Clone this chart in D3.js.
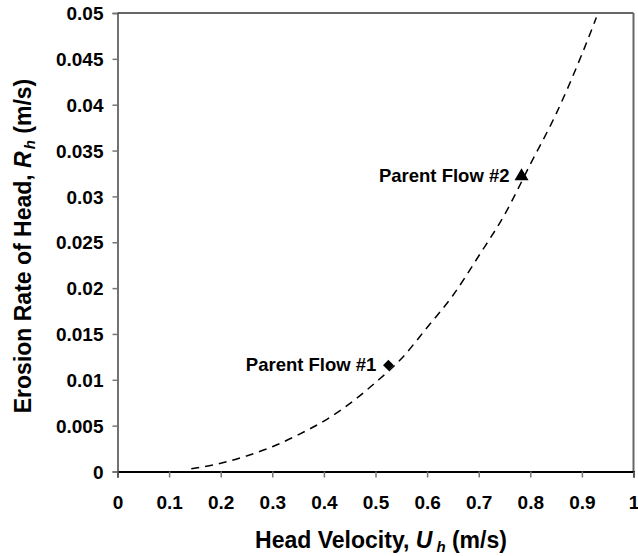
<!DOCTYPE html>
<html>
<head>
<meta charset="utf-8">
<script src="https://cdn.jsdelivr.net/npm/d3@7"></script>
<style>
  body { margin: 0; background: #fff; }
  svg { font-family: Arial, "Liberation Sans", sans-serif; }
</style>
</head>
<body>
<div id="chart"></div>
<script>
// curve (head velocity vs erosion rate)
const curveU = [0.143, 0.2, 0.25, 0.3, 0.35, 0.4, 0.45, 0.5, 0.55, 0.6, 0.65, 0.7, 0.75, 0.8, 0.85, 0.9, 0.928];
const curveR = [0.0003, 0.0009, 0.0017, 0.0027, 0.0040, 0.0055, 0.0074, 0.0097, 0.0123, 0.0157, 0.0192, 0.0235, 0.0280, 0.0335, 0.0390, 0.0455, 0.0495];

const flowNames = ["Parent Flow #1", "Parent Flow #2"];
const flowU = [0.525, 0.783];
const flowR = [0.0116, 0.0322];
const flowShapes = ["diamond", "triangle"];

const xTicks = [0, 0.1, 0.2, 0.3, 0.4, 0.5, 0.6, 0.7, 0.8, 0.9, 1];
const yTicks = [0, 0.005, 0.01, 0.015, 0.02, 0.025, 0.03, 0.035, 0.04, 0.045, 0.05];

const width = 638;
const height = 556;
const margin = { top: 13, right: 4.5, bottom: 84.5, left: 117.5 };

const svg = d3.select("#chart")
  .append("svg")
  .attr("width", width)
  .attr("height", height);

const x = d3.scaleLinear()
  .domain([0, 1])
  .range([margin.left, width - margin.right]);

const y = d3.scaleLinear()
  .domain([0, 0.05])
  .range([height - margin.bottom, margin.top]);

// frame top and right
svg.append("line")
  .attr("x1", x(0)).attr("x2", x(1))
  .attr("y1", y(0.05)).attr("y2", y(0.05))
  .attr("stroke", "#333").attr("stroke-width", 1.5);
svg.append("line")
  .attr("x1", x(1)).attr("x2", x(1))
  .attr("y1", y(0.05)).attr("y2", y(0))
  .attr("stroke", "#666").attr("stroke-width", 2);

// x axis
const xAxis = svg.append("g")
  .attr("transform", `translate(0,${y(0)})`)
  .call(d3.axisBottom(x).tickValues(xTicks).tickSize(6).tickPadding(18)
    .tickFormat(d => d3.format("")(+d.toFixed(1))));
xAxis.select(".domain").attr("stroke", "#000").attr("stroke-width", 2);
xAxis.selectAll(".tick line").attr("stroke", "#777").attr("stroke-width", 1.5);
xAxis.selectAll("text")
  .attr("fill", "#000")
  .style("font-size", "19px")
  .style("font-weight", "bold");

// y axis
const yAxis = svg.append("g")
  .attr("transform", `translate(${x(0)},0)`)
  .call(d3.axisLeft(y).tickValues(yTicks).tickSize(5).tickPadding(9)
    .tickFormat(d => d3.format("")(+d.toFixed(3))));
yAxis.select(".domain").attr("stroke", "#444").attr("stroke-width", 1.5);
yAxis.selectAll(".tick line").attr("stroke", "#777").attr("stroke-width", 1.5);
yAxis.selectAll("text")
  .attr("fill", "#000")
  .attr("dy", "0.35em")
  .style("font-size", "19px")
  .style("font-weight", "bold");

// dashed curve
const pts = curveU.map((u, i) => [u, curveR[i]]);
const line = d3.line()
  .x(d => x(d[0]))
  .y(d => y(d[1]))
  .curve(d3.curveMonotoneX);

svg.append("path")
  .datum(pts)
  .attr("d", line)
  .attr("fill", "none")
  .attr("stroke", "#000")
  .attr("stroke-width", 1.5)
  .attr("stroke-dasharray", "8,6");

// parent flows
const symType = { diamond: d3.symbolDiamond2, triangle: d3.symbolTriangle };
const flows = flowNames.map((n, i) => ({ name: n, u: flowU[i], r: flowR[i], shape: flowShapes[i] }));

svg.selectAll(".flow")
  .data(flows)
  .join("path")
  .attr("class", "flow")
  .attr("transform", d => `translate(${x(d.u)},${y(d.r)})`)
  .attr("d", d => d3.symbol().type(symType[d.shape]).size(d.shape === "diamond" ? 75 : 85)())
  .attr("fill", "#000");

svg.selectAll(".flowLabel")
  .data(flows)
  .join("text")
  .attr("class", "flowLabel")
  .attr("x", d => x(d.u) - 12)
  .attr("y", d => y(d.r) + 6)
  .attr("text-anchor", "end")
  .style("font-size", "18.5px")
  .style("font-weight", "bold")
  .text(d => d.name);

// axis titles
const xt = svg.append("text")
  .attr("x", 381)
  .attr("y", 548)
  .attr("text-anchor", "middle")
  .style("font-size", "23px")
  .style("font-weight", "bold");
xt.append("tspan").text("Head Velocity, ");
xt.append("tspan").style("font-style", "italic").text("U");
xt.append("tspan").attr("dx", 4).attr("dy", 4).style("font-style", "italic").style("font-size", "15px").text("h");
xt.append("tspan").attr("dy", -4).text(" (m/s)");

const yt = svg.append("text")
  .attr("transform", "translate(31,246) rotate(-90)")
  .attr("text-anchor", "middle")
  .style("font-size", "23px")
  .style("font-weight", "bold");
yt.append("tspan").text("Erosion Rate of Head, ");
yt.append("tspan").style("font-style", "italic").text("R");
yt.append("tspan").attr("dx", 2).attr("dy", 4).style("font-style", "italic").style("font-size", "15px").text("h");
yt.append("tspan").attr("dy", -4).text(" (m/s)");
</script>
</body>
</html>
